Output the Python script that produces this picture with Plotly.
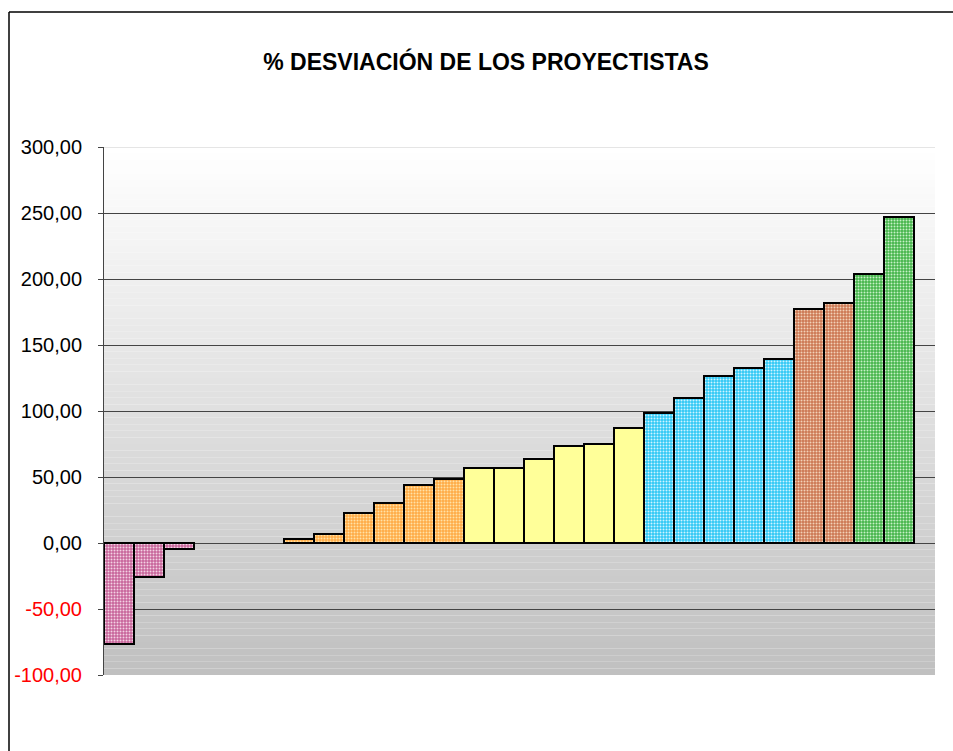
import plotly.graph_objects as go

# ---- data ----
positions = list(range(1, 28))
values = [-76.7, -25.5, -4.5, None, None, None,
          3.0, 7.0, 22.5, 30.1, 44.2, 48.5,
          56.8, 56.8, 63.6, 73.5, 75.0, 87.0,
          98.5, 109.8, 126.5, 132.6, 139.4,
          177.3, 181.8,
          203.8, 247.2]
groups = ["pink"] * 3 + [None] * 3 + ["orange"] * 6 + ["yellow"] * 6 + ["blue"] * 5 + ["brown"] * 2 + ["green"] * 2

tick_vals = [-100, -50, 0, 50, 100, 150, 200, 250, 300]
tick_text = ["-100,00", "-50,00", "0,00", "50,00", "100,00", "150,00", "200,00", "250,00", "300,00"]

styles = {
    "pink":   dict(bg="#c8649a", fg="#f3d3e4", shape="."),
    "orange": dict(bg="#ffab45", fg="#ffe2a8", shape="."),
    "yellow": dict(bg="#ffff99", fg="#ffff99", shape=""),
    "blue":   dict(bg="#2ec8f5", fg="#d0f4ff", shape="."),
    "brown":  dict(bg="#cc7752", fg="#f2d2b8", shape="."),
    "green":  dict(bg="#45b54a", fg="#c8f0c8", shape="."),
}

fig = go.Figure()
for g, st in styles.items():
    xs = [p for p, gg in zip(positions, groups) if gg == g]
    ys = [v for v, gg in zip(values, groups) if gg == g]
    fig.add_trace(go.Bar(
        x=xs, y=ys,
        marker=dict(
            color=st["bg"],
            line=dict(color="black", width=2),
            pattern=dict(shape=st["shape"], bgcolor=st["bg"], fgcolor=st["fg"],
                         fgopacity=1, size=3, solidity=0.35),
        ),
        showlegend=False, hoverinfo="skip",
    ))

# gradient background (white at top to grey at bottom)
ymin, ymax = -100, 300
n = 80
for i in range(n):
    f = i / (n - 1)
    c = int(round(255 - f * (255 - 192)))
    y1 = ymax - (ymax - ymin) * i / n
    y0 = ymax - (ymax - ymin) * (i + 1) / n
    fig.add_shape(type="rect", xref="x domain", yref="y", x0=0, x1=1, y0=y0, y1=y1,
                  fillcolor=f"rgb({c},{c},{c})", line=dict(width=0), layer="below")

# light top gridline
fig.add_shape(type="line", xref="x domain", yref="y", x0=0, x1=1, y0=300, y1=300,
              line=dict(color="#dddddd", width=1.5), layer="above")

# outer chart border (left/top visible)
fig.add_shape(type="line", xref="paper", yref="paper",
              x0=(9 - 104) / 831, x1=(9 - 104) / 831,
              y0=(675 - 760) / 528, y1=(675 - 12) / 528,
              line=dict(color="black", width=1.5), layer="above")
fig.add_shape(type="line", xref="paper", yref="paper",
              x0=(9 - 104) / 831, x1=(970 - 104) / 831,
              y0=(675 - 12) / 528, y1=(675 - 12) / 528,
              line=dict(color="black", width=1.5), layer="above")

tick_text_col = [f"<span style='color:#ff0000'>{t}</span>" if v < 0 else t
                 for v, t in zip(tick_vals, tick_text)]

fig.update_layout(
    width=953, height=751,
    margin=dict(l=104, r=18, t=147, b=76),
    paper_bgcolor="white", plot_bgcolor="white",
    bargap=0, barmode="overlay",
    font=dict(family="Liberation Sans, Arial, sans-serif", size=20, color="black"),
    title=dict(text="<b>% DESVIACIÓN DE LOS PROYECTISTAS</b>",
               x=486 / 953, xanchor="center", y=1 - 62 / 751, yanchor="middle",
               font=dict(size=23, color="black")),
    xaxis=dict(range=[0.5, 28.2], showticklabels=False, showgrid=False, zeroline=False,
               ticks="", showline=False),
    yaxis=dict(range=[-100, 300], tickvals=tick_vals, ticktext=tick_text_col,
               showgrid=True, gridcolor="#444444", gridwidth=1,
               zeroline=True, zerolinecolor="#444444", zerolinewidth=1,
               showline=True, linecolor="#444444", linewidth=1,
               ticks="outside", ticklen=5, tickcolor="#444444",
               ticklabelstandoff=12),
)

fig.write_html("out.html")
